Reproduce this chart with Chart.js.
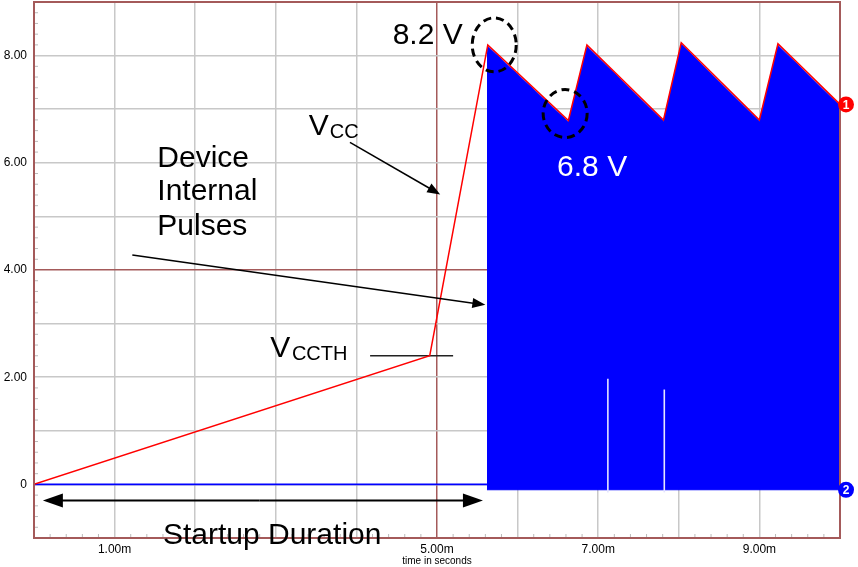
<!DOCTYPE html>
<html>
<head>
<meta charset="utf-8">
<script src="https://cdn.jsdelivr.net/npm/chart.js@4.4.0/dist/chart.umd.min.js"></script>
<style>
  html, body { margin: 0; padding: 0; background: #fff; }
  #wrap { width: 858px; height: 567px; }
</style>
</head>
<body>
<div id="wrap"><canvas id="scope"></canvas></div>
<script>
const vccTime  = [0, 4.91, 5.63, 6.63, 6.86, 7.81, 8.03, 9.00, 9.23, 10.0];
const vccVolts = [0, 2.40, 8.20, 6.79, 8.20, 6.80, 8.24, 6.80, 8.22, 7.09];

const pulseTime = [5.62, 5.63, 6.63, 6.86, 7.81, 8.03, 9.00, 9.23, 10.0];
const pulseTop  = [8.05, 8.17, 6.76, 8.17, 6.77, 8.21, 6.77, 8.19, 7.06];
const pulseFloor = -0.1;

const baseTime = [0, 5.62];
const baseVolts = [0, 0];

const gapTime = [7.12, 7.82];
const gapTop  = [1.97, 1.77];

const vccthTime = [4.17, 5.20];
const vccthLevel = 2.40;

const xLabelValues = [1, 5, 7, 9];
const xTickLabels  = ['1.00m', '5.00m', '7.00m', '9.00m'];
const yLabelValues = [0, 2, 4, 6, 8];
const yTickLabels  = ['0', '2.00', '4.00', '6.00', '8.00'];

const cores = {
    vcc: '#ff0000',
    pulsos: '#0000ff',
    grade: '#c8c8c8',
    moldura: '#a45a5a'
};
const fonte = '"Liberation Sans", Arial, sans-serif';

function pontos(xs, ys) {
    return xs.map((x, i) => ({ x: x, y: Array.isArray(ys) ? ys[i] : ys }));
}

const molduraPlugin = {
    id: 'moldura',
    afterDatasetsDraw(chart) {
        const { ctx, chartArea: a, scales } = chart;
        ctx.save();
        // ticks menores a cada 0.2
        ctx.strokeStyle = '#bbbbbb';
        ctx.lineWidth = 1;
        for (let k = -5; k <= 45; k++) {
            if (k % 5 === 0) continue;
            const y = scales.y.getPixelForValue(k / 5);
            ctx.beginPath(); ctx.moveTo(a.left, y); ctx.lineTo(a.left + 4, y); ctx.stroke();
        }
        for (let k = 1; k < 50; k++) {
            if (k % 5 === 0) continue;
            const x = scales.x.getPixelForValue(k / 5);
            ctx.beginPath(); ctx.moveTo(x, a.bottom); ctx.lineTo(x, a.bottom - 4); ctx.stroke();
        }
        ctx.strokeStyle = cores.moldura;
        ctx.lineWidth = 2;
        ctx.strokeRect(a.left, a.top, a.right - a.left, a.bottom - a.top);
        ctx.restore();
    }
};

function seta(ctx, x1, y1, x2, y2, ponta, largura) {
    const ang = Math.atan2(y2 - y1, x2 - x1);
    ctx.beginPath();
    ctx.moveTo(x1, y1);
    ctx.lineTo(x2 - Math.cos(ang) * ponta * 0.8, y2 - Math.sin(ang) * ponta * 0.8);
    ctx.stroke();
    ctx.beginPath();
    ctx.moveTo(x2, y2);
    ctx.lineTo(x2 - Math.cos(ang) * ponta + Math.sin(ang) * largura, y2 - Math.sin(ang) * ponta - Math.cos(ang) * largura);
    ctx.lineTo(x2 - Math.cos(ang) * ponta - Math.sin(ang) * largura, y2 - Math.sin(ang) * ponta + Math.cos(ang) * largura);
    ctx.closePath();
    ctx.fill();
}

const anotacoesPlugin = {
    id: 'anotacoes',
    afterDraw(chart) {
        const { ctx, scales } = chart;
        const px = v => scales.x.getPixelForValue(v);
        const py = v => scales.y.getPixelForValue(v);
        ctx.save();

        // marcadores de canal
        const marcador = (y, cor, txt) => {
            ctx.fillStyle = cor;
            ctx.beginPath(); ctx.arc(px(10) + 6, y, 8, 0, Math.PI * 2); ctx.fill();
            ctx.fillStyle = '#fff';
            ctx.font = 'bold 12px ' + fonte;
            ctx.textAlign = 'center'; ctx.textBaseline = 'middle';
            ctx.fillText(txt, px(10) + 6, y + 1);
        };
        marcador(py(vccVolts[vccVolts.length - 1]), cores.vcc, '1');
        marcador(py(pulseFloor), cores.pulsos, '2');

        // circulos tracejados
        ctx.strokeStyle = '#000';
        ctx.lineWidth = 3;
        ctx.setLineDash([8, 5]);
        ctx.beginPath(); ctx.ellipse(px(5.71), py(8.2), 22, 27, 0, 0, Math.PI * 2); ctx.stroke();
        ctx.beginPath(); ctx.ellipse(px(6.59), py(6.92), 22, 24, 0, 0, Math.PI * 2); ctx.stroke();
        ctx.setLineDash([]);

        ctx.textAlign = 'left';
        ctx.textBaseline = 'alphabetic';
        ctx.fillStyle = '#000';
        ctx.font = '30px ' + fonte;
        ctx.fillText('8.2 V', px(4.45), py(8.21));
        ctx.fillText('Device', px(1.53), py(5.93));
        ctx.fillText('Internal', px(1.53), py(5.30));
        ctx.fillText('Pulses', px(1.53), py(4.65));
        ctx.fillText('Startup Duration', px(1.6), py(-1.12));
        ctx.fillStyle = '#fff';
        ctx.fillText('6.8 V', px(6.49), py(5.76));

        // V_CC e V_CCTH
        ctx.fillStyle = '#000';
        ctx.font = '30px ' + fonte;
        ctx.fillText('V', px(3.41), py(6.51));
        ctx.fillText('V', px(2.93), py(2.38));
        ctx.font = '20px ' + fonte;
        ctx.fillText('CC', px(3.67), py(6.47));
        ctx.fillText('CCTH', px(3.2), py(2.33));

        // setas
        ctx.strokeStyle = '#000';
        ctx.fillStyle = '#000';
        ctx.lineWidth = 1.5;
        seta(ctx, px(3.92), py(6.38), px(5.04), py(5.41), 13, 5);
        seta(ctx, px(1.22), py(4.28), px(5.6), py(3.35), 13, 5);
        ctx.lineWidth = 2;
        const yS = py(-0.3);
        seta(ctx, px(2.8), yS, px(0.11), yS, 20, 7);
        seta(ctx, px(2.8), yS, px(5.57), yS, 20, 7);
        ctx.restore();
    }
};

function criarGraficoOsciloscopio() {
    const canvas = document.getElementById('scope');
    if (!canvas) return;

    try {
        new Chart(canvas, {
            type: 'line',
            data: {
                datasets: [
                    {
                        label: 'VCC',
                        data: pontos(vccTime, vccVolts),
                        borderColor: cores.vcc,
                        borderWidth: 1.5,
                        pointRadius: 0,
                        tension: 0
                    },
                    {
                        label: 'gap1',
                        data: pontos([gapTime[0], gapTime[0]], [pulseFloor - 0.05, gapTop[0]]),
                        borderColor: '#e4e4ff',
                        borderWidth: 1.6,
                        pointRadius: 0
                    },
                    {
                        label: 'gap2',
                        data: pontos([gapTime[1], gapTime[1]], [pulseFloor - 0.05, gapTop[1]]),
                        borderColor: '#e4e4ff',
                        borderWidth: 1.6,
                        pointRadius: 0
                    },
                    {
                        label: 'VCCTH',
                        data: pontos(vccthTime, vccthLevel),
                        borderColor: '#222',
                        borderWidth: 1.5,
                        pointRadius: 0
                    },
                    {
                        label: 'base',
                        data: pontos(baseTime, baseVolts),
                        borderColor: cores.pulsos,
                        borderWidth: 1.6,
                        pointRadius: 0
                    },
                    {
                        label: 'Pulsos',
                        data: pontos(pulseTime, pulseTop),
                        borderColor: cores.pulsos,
                        backgroundColor: cores.pulsos,
                        borderWidth: 1,
                        pointRadius: 0,
                        fill: '+1'
                    },
                    {
                        label: 'fundo',
                        data: pontos([pulseTime[0], pulseTime[pulseTime.length - 1]], pulseFloor),
                        borderColor: cores.pulsos,
                        borderWidth: 1,
                        pointRadius: 0
                    }
                ]
            },
            options: {
                responsive: true,
                maintainAspectRatio: false,
                animation: false,
                layout: { padding: { left: 0, right: 18, top: 2, bottom: 0 } },
                plugins: {
                    legend: { display: false },
                    tooltip: { enabled: false }
                },
                scales: {
                    x: {
                        type: 'linear',
                        min: 0,
                        max: 10,
                        afterFit: s => { s.height = 29; s.paddingLeft = 0; s.paddingRight = 0; },
                        ticks: {
                            stepSize: 1,
                            padding: 4,
                            maxRotation: 0,
                            autoSkip: false,
                            color: '#000',
                            font: { family: fonte, size: 12 },
                            callback: function(value) {
                                const i = xLabelValues.indexOf(value);
                                return i >= 0 ? xTickLabels[i] : '';
                            }
                        },
                        grid: {
                            drawTicks: false,
                            lineWidth: 1.5,
                            color: ctx => ctx.tick && ctx.tick.value === 5 ? cores.moldura : cores.grade
                        },
                        border: { display: false },
                        title: {
                            display: true,
                            text: 'time in seconds',
                            color: '#000',
                            padding: 0,
                            font: { family: fonte, size: 10 }
                        }
                    },
                    y: {
                        type: 'linear',
                        min: -1,
                        max: 9,
                        afterFit: s => { s.width = 34; s.paddingTop = 0; s.paddingBottom = 0; },
                        ticks: {
                            stepSize: 1,
                            padding: 7,
                            color: '#000',
                            font: { family: fonte, size: 12 },
                            callback: function(value) {
                                const i = yLabelValues.indexOf(value);
                                return i >= 0 ? yTickLabels[i] : '';
                            }
                        },
                        grid: {
                            drawTicks: false,
                            lineWidth: 1.5,
                            color: ctx => ctx.tick && ctx.tick.value === 4 ? cores.moldura : cores.grade
                        },
                        border: { display: false }
                    }
                }
            },
            plugins: [molduraPlugin, anotacoesPlugin]
        });
        console.log('grafico criado');
    } catch (error) {
        console.error('Erro no grafico:', error);
    }
}

criarGraficoOsciloscopio();
</script>
</body>
</html>
